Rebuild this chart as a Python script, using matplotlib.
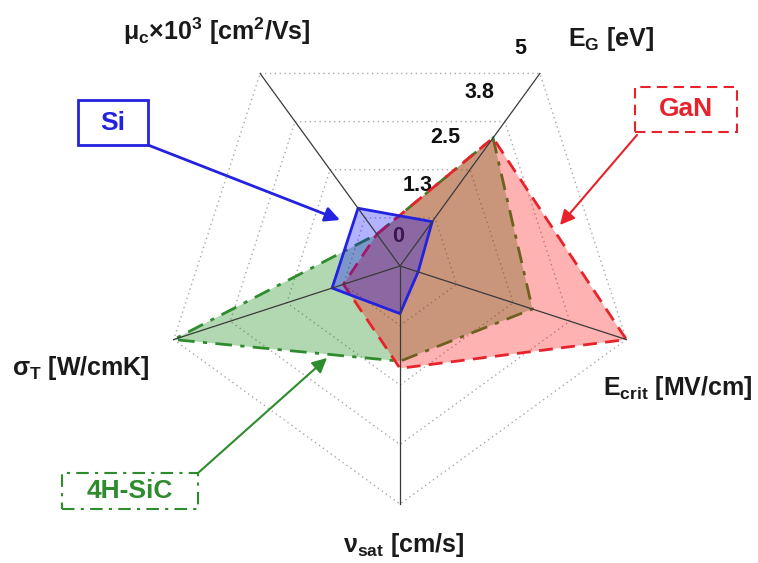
import numpy as np
import matplotlib.pyplot as plt
from matplotlib.patches import Rectangle

plt.rcParams['font.family'] = ['Liberation Sans', 'DejaVu Sans']
plt.rcParams['font.weight'] = 'bold'

# radar axes, counter-clockwise from the upper left
axis_labels = ['μ$_{\\mathregular{c}}$×10$^{\\mathregular{3}}$ [cm$^{\\mathregular{2}}$/Vs]',
               'E$_{\\mathregular{G}}$ [eV]',
               'E$_{\\mathregular{crit}}$ [MV/cm]',
               'ν$_{\\mathregular{sat}}$ [cm/s]',
               'σ$_{\\mathregular{T}}$ [W/cmK]']
axis_angles = [126, 54, -18, -90, 198]

# values as a fraction of each axis' full scale
si = [0.30, 0.23, 0.08, 0.20, 0.30]
gan = [0.165, 0.665, 1.00, 0.43, 0.25]
sic = [0.165, 0.665, 0.585, 0.40, 1.00]

grid_levels = [0.25, 0.5, 0.75, 1.0]
eg_ticks = ['0', '1.3', '2.5', '3.8', '5']

W, H = 758, 563
cx, cy, R = 400, 266, 238   # centre and radius in pixels

fig = plt.figure(figsize=(W / 100, H / 100), dpi=100)
ax = fig.add_axes([0, 0, 1, 1])
ax.set_xlim(-cx / R, (W - cx) / R)
ax.set_ylim(-(H - cy) / R, cy / R)
ax.set_aspect('equal')
ax.axis('off')

theta = np.deg2rad(axis_angles)


def xy(vals):
    v = np.asarray(vals, dtype=float)
    x, y = v * np.cos(theta), v * np.sin(theta)
    return np.append(x, x[0]), np.append(y, y[0])


def fp(x, y):
    # pixel position -> figure fraction
    return x / W, 1 - y / H


# dotted pentagon grid
for lv in grid_levels:
    gx, gy = xy([lv] * 5)
    ax.plot(gx, gy, ls=(0, (1, 2.5)), color='#a8a8a8', lw=1, zorder=1)

# E_G scale, sits under the fills
tick_dx = [-2, -17, -25, -25, -20]
tick_dy = [29, 32, 32, 29, 25]
for lv, lab, dx, dy in zip([0] + grid_levels, eg_ticks, tick_dx, tick_dy):
    px = lv * np.cos(theta[1]) + dx / R
    py = lv * np.sin(theta[1]) + dy / R
    ax.text(px, py, lab, fontsize=15.5, ha='center', va='center',
            color='#111111', zorder=1.5)

# materials
sx, sy = xy(sic)
ax.fill(sx, sy, facecolor=(0.0, 0.5, 0.0, 0.3), edgecolor='#2e8b2e',
        lw=2, ls=(0, (6, 3, 1.5, 3)), zorder=2)
gx, gy = xy(gan)
ax.fill(gx, gy, facecolor=(1.0, 0.0, 0.0, 0.3), edgecolor='#e8222a',
        lw=2, ls=(0, (5, 3)), zorder=3)
bx, by = xy(si)
ax.fill(bx, by, facecolor=(0.0, 0.0, 1.0, 0.3), edgecolor='#2222e0',
        lw=2, zorder=4)

# spokes
for t in theta:
    ax.plot([0, np.cos(t)], [0, np.sin(t)], color='#3a3a3a', lw=0.9, zorder=5)

# axis titles
title_pos = [(123, 40), (568, 46), (603, 395), (343, 552), (12, 375)]
for lab, (x, y) in zip(axis_labels, title_pos):
    fig.text(*fp(x, y), lab, fontsize=18, ha='left', va='baseline',
             color='#1a1a1a')

# material tags with arrows
tags = [('Si', '#2222e0', '-', (78, 100, 148, 145), (148, 145), (340, 220), 2),
        ('GaN', '#e8222a', (0, (5, 3)), (635, 87, 737, 132), (637, 135), (560, 225), 1.5),
        ('4H-SiC', '#2e8b2e', (0, (6, 3, 1.5, 3)), (62, 473, 198, 509), (198, 473), (327, 358), 1.5)]
for name, col, ls, (x0, y0, x1, y1), start, tip, lw in tags:
    lx, ly = fp(x0, y1)
    rw, rh = (x1 - x0) / W, (y1 - y0) / H
    ax.add_patch(Rectangle((lx, ly), rw, rh, transform=fig.transFigure,
                           facecolor='white', edgecolor=col, lw=lw, ls=ls,
                           zorder=8, clip_on=False))
    fig.text(*fp((x0 + x1) / 2, (y0 + y1) / 2), name, fontsize=19,
             ha='center', va='center', color=col, zorder=9)
    ax.annotate('', xy=fp(*tip), xycoords='figure fraction',
                xytext=fp(*start), textcoords='figure fraction',
                arrowprops=dict(arrowstyle='-|>', color=col, lw=lw,
                                mutation_scale=22, shrinkA=0, shrinkB=0),
                zorder=8)

fig.savefig('out.png', dpi=100, facecolor='white')
